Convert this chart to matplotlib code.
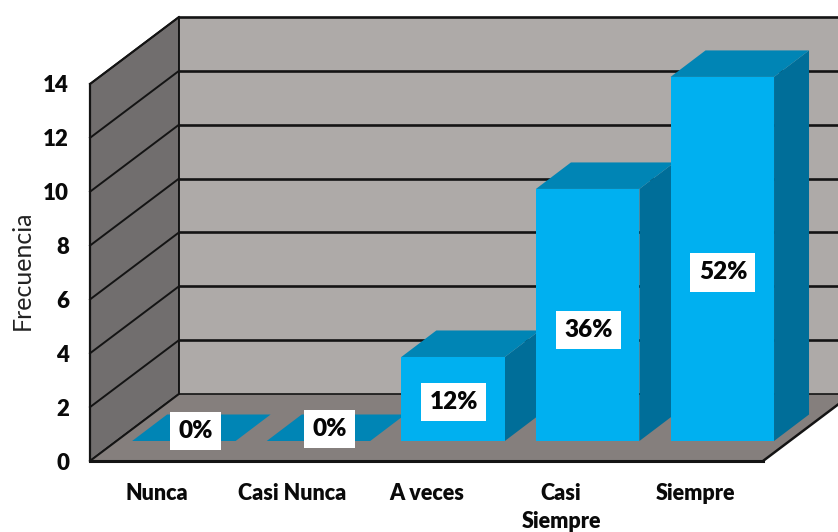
import matplotlib
matplotlib.use("Agg")
import matplotlib.pyplot as plt
from matplotlib.patches import Polygon

categorias = ['Nunca', 'Casi Nunca', 'A veces', 'Casi\nSiempre', 'Siempre']
frecuencia = [0, 0, 3, 9, 13]
porcentajes = ['0%', '0%', '12%', '36%', '52%']
ticks_y = [0, 2, 4, 6, 8, 10, 12, 14]

plt.rcParams['font.family'] = ['Lato', 'DejaVu Sans']

# profundidad del cuadro y de las barras (unidades de datos)
wall_dx, wall_dy = 0.661, 2.488
bar_dx, bar_dy = 0.26, 0.984
bar_left, bar_width = -0.187, 0.769
bar_base = 0.743
bar_scale = 1.04
# ajuste manual de las etiquetas respecto al centro de la barra
label_dx = [0.085, 0.085, 0.005, 0.005, 0.005]
label_dy = [0.37, 0.44, -0.12, -0.56, -0.5]

WALL = '#AEAAA8'
SIDE = '#716E6E'
FLOOR = '#857F7D'
FRONT = '#00B0F0'
TOP = '#0085B5'
RIGHT = '#006E99'
LINE = '#141414'

W, H = 838, 532
fig = plt.figure(figsize=(W / 100, H / 100), dpi=100)
ax = fig.add_axes([90 / W, (H - 461) / H, 673 / W, 377 / H])
ax.set_xlim(-0.5, 4.5)
ax.set_ylim(0, 14)
ax.patch.set_visible(False)


def poly(pts, color, z, edge='none', lw=0):
    ax.add_patch(Polygon(pts, closed=True, facecolor=color, edgecolor=edge,
                         linewidth=lw, zorder=z, clip_on=False))


x0, x1 = -0.5, 4.5
y_top = ticks_y[-1]
# paredes y piso
poly([(x0 + wall_dx, wall_dy), (x1 + wall_dx, wall_dy),
      (x1 + wall_dx, y_top + wall_dy), (x0 + wall_dx, y_top + wall_dy)], WALL, 1)
poly([(x0, 0), (x0 + wall_dx, wall_dy), (x0 + wall_dx, y_top + wall_dy), (x0, y_top)],
     SIDE, 1, LINE, 1.4)
poly([(x0, 0), (x1, 0), (x1 + wall_dx, wall_dy), (x0 + wall_dx, wall_dy)], FLOOR, 1)

for t in ticks_y:
    ax.plot([x0, x0 + wall_dx], [t, t + wall_dy], color=LINE, lw=1.4, zorder=2, clip_on=False)
    ax.plot([x0 + wall_dx, x1 + wall_dx], [t + wall_dy, t + wall_dy], color=LINE,
            lw=1.2 if t == 0 else 1.9, zorder=2, clip_on=False)
ax.plot([x1, x1 + wall_dx], [0, wall_dy], color=LINE, lw=1.8, zorder=2, clip_on=False)

# barras
for i, v in enumerate(frecuencia):
    l = i + bar_left
    r = l + bar_width
    b = bar_base
    t = b + v * bar_scale
    if v > 0:
        poly([(r, b), (r + bar_dx, b + bar_dy), (r + bar_dx, t + bar_dy), (r, t)], RIGHT, 3)
        poly([(l, b), (r, b), (r, t), (l, t)], FRONT, 4)
    poly([(l, t), (r, t), (r + bar_dx, t + bar_dy), (l + bar_dx, t + bar_dy)], TOP, 3)
    ax.text(l + bar_width / 2 + label_dx[i], (b + t) / 2 + label_dy[i], porcentajes[i],
            ha='center', va='center', fontsize=17.5, fontweight='heavy', color='#050505', zorder=6,
            bbox=dict(facecolor='white', edgecolor='none', pad=6))

for s in ['top', 'right']:
    ax.spines[s].set_visible(False)
ax.spines['left'].set_color(LINE)
ax.spines['left'].set_linewidth(1.6)
ax.spines['bottom'].set_color(LINE)
ax.spines['bottom'].set_linewidth(2.2)
ax.spines['left'].set_zorder(5)
ax.spines['bottom'].set_zorder(5)

ax.set_yticks(ticks_y)
ax.set_xticks(range(len(categorias)))
ax.set_xticklabels(categorias, fontsize=15.5, fontweight='heavy', color='#0A0A0A', linespacing=1.38)
ax.tick_params(axis='y', length=0, pad=15, labelsize=16, labelcolor='#0A0A0A')
ax.tick_params(axis='x', length=0, pad=16)
for lab in ax.get_yticklabels():
    lab.set_fontweight('heavy')

fig.text(22 / W, (H - 270) / H, 'Frecuencia', rotation=90, ha='center', va='center',
         fontsize=18, color='#222222')

fig.savefig('out.png', dpi=100)
plt.close('all')
